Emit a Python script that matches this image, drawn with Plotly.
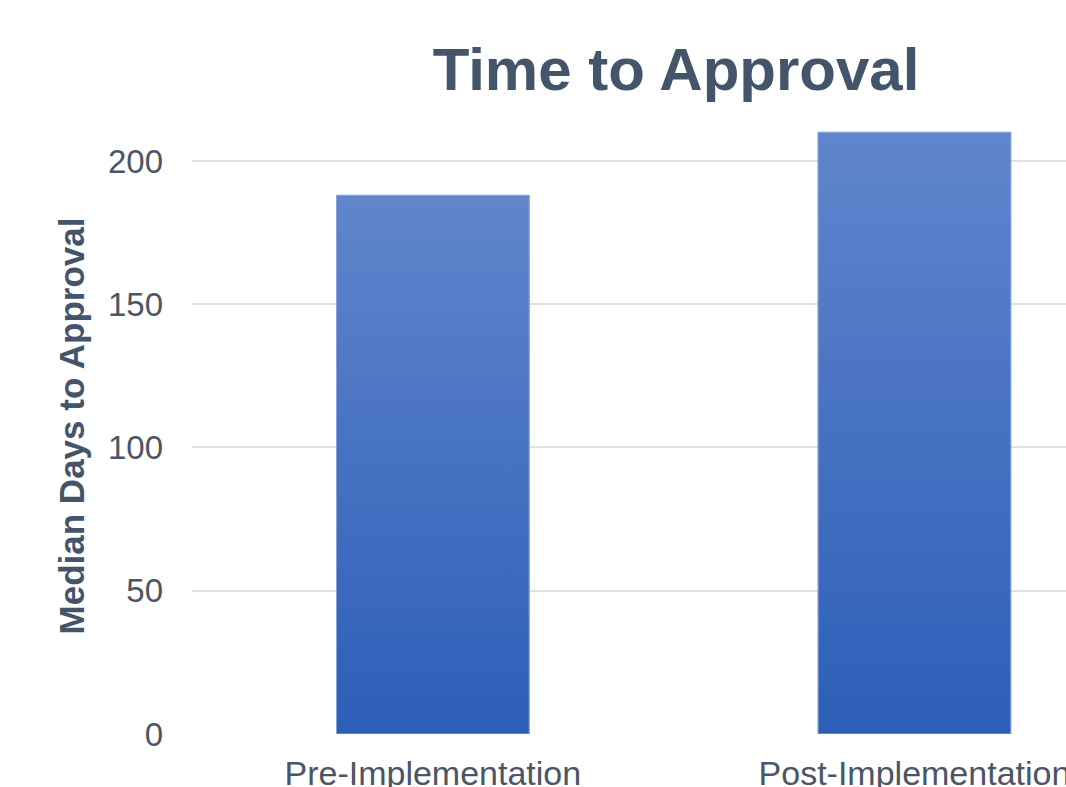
import plotly.graph_objects as go

categories = ["Pre-Implementation", "Post-Implementation"]
median_days = [188, 210]
y_ticks = [0, 50, 100, 150, 200]

BAR_W = 0.4
TOP_C = "#6085CC"
BOT_C = "#2C5EB8"
EDGE_C = "#8AA4DC"

fig = go.Figure()
xs = list(range(len(categories)))
fig.add_trace(go.Bar(x=xs, y=median_days, width=BAR_W,
                     marker=dict(color="#4571C4", line=dict(color=EDGE_C, width=1)),
                     hoverinfo="skip", showlegend=False))
# gradient overlay, built from the same data through the axes
for i, v in zip(xs, median_days):
    fig.add_trace(go.Scatter(
        x=[i - BAR_W / 2, i - BAR_W / 2, i + BAR_W / 2, i + BAR_W / 2, i - BAR_W / 2],
        y=[0, v, v, 0, 0], mode="lines", fill="toself",
        line=dict(color=EDGE_C, width=1),
        fillgradient=dict(type="vertical", colorscale=[[0, BOT_C], [1, TOP_C]]),
        showlegend=False, hoverinfo="skip"))

font_fam = "Liberation Sans, Arial, sans-serif"
fig.update_layout(
    width=1066, height=787,
    margin=dict(l=192, r=0, t=118, b=53),
    paper_bgcolor="white", plot_bgcolor="white",
    font=dict(family=font_fam, color="#4B5567"),
    title=dict(text="<b>Time to Approval</b>", x=676 / 1066, xanchor="center",
               xref="container", y=1 - 69 / 787, yref="container", yanchor="middle",
               font=dict(size=60, color="#44546A", family=font_fam)),
    showlegend=False,
)
fig.update_xaxes(range=[-0.5, (1066 - 433) / 481.5], tickvals=xs, ticktext=categories,
                 showgrid=False, zeroline=False, showline=False, automargin=False,
                 ticklabeloverflow="allow",
                 tickfont=dict(size=34, color="#4B5567"), ticks="", ticklabelstandoff=16)
fig.update_yaxes(range=[0, 215], tickvals=y_ticks, showgrid=True, gridcolor="#DDE1E8",
                 gridwidth=2, zeroline=False, showline=False, automargin=False,
                 tickfont=dict(size=33, color="#4B5567"), ticklabelstandoff=28,
                 title=dict(text="<b>Median Days to Approval</b>", standoff=12,
                            font=dict(size=35, color="#44546A")))
fig.write_html("out.html")
